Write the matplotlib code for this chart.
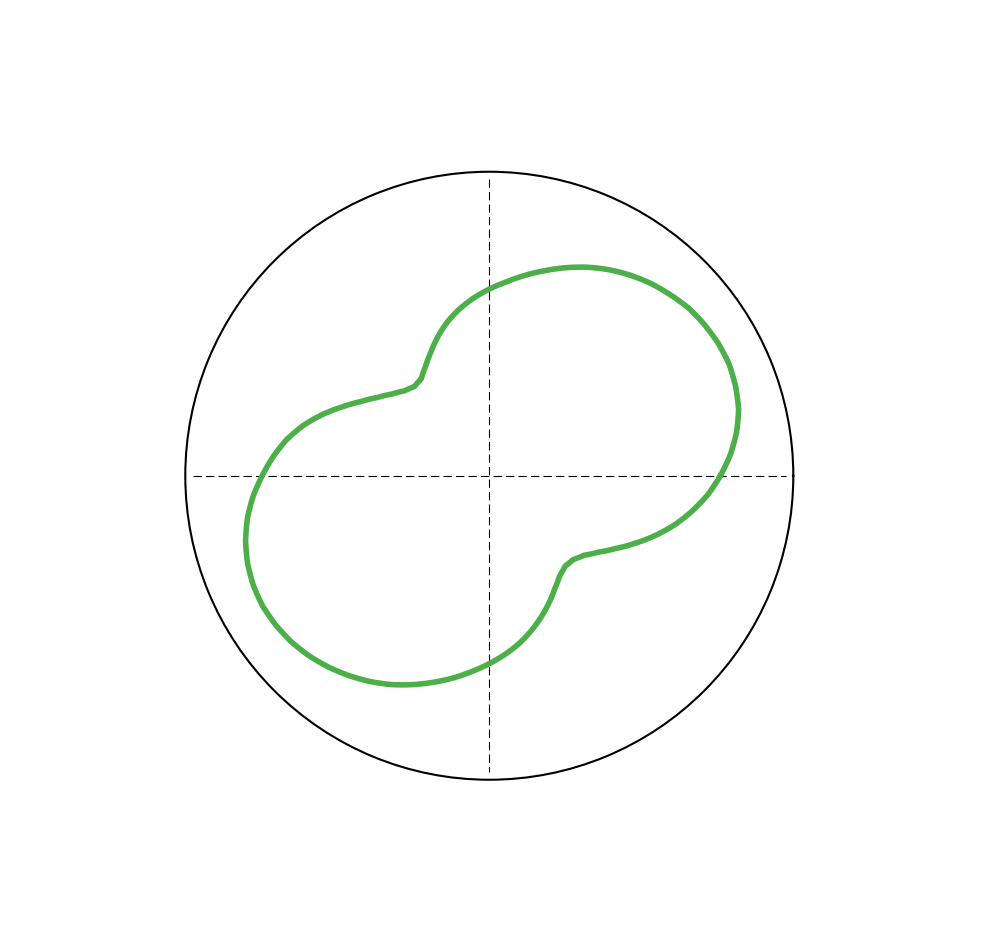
import numpy as np
import matplotlib
matplotlib.use("Agg")
import matplotlib.pyplot as plt

# radius of the green curve (circle radius = 1), read every 5 degrees, 0..355
theta_deg = np.arange(0, 360, 5)
r_vals = [0.760, 0.796, 0.826, 0.849, 0.862, 0.870, 0.870, 0.865, 0.857,
          0.842, 0.826, 0.806, 0.783, 0.757, 0.728, 0.698, 0.669, 0.640,
          0.614, 0.587, 0.558, 0.526, 0.490, 0.452, 0.418, 0.390, 0.383,
          0.395, 0.418, 0.449, 0.488, 0.535, 0.586, 0.635, 0.678, 0.714,
          0.747, 0.780, 0.808, 0.830, 0.846, 0.856, 0.860, 0.857, 0.850,
          0.838, 0.822, 0.803, 0.782, 0.758, 0.731, 0.703, 0.675, 0.646,
          0.618, 0.590, 0.561, 0.529, 0.496, 0.463, 0.430, 0.403, 0.388,
          0.390, 0.407, 0.438, 0.479, 0.527, 0.578, 0.629, 0.676, 0.721]

theta = np.deg2rad(np.append(theta_deg, 360))
r = np.append(r_vals, r_vals[0])

axis_len = 0.975

fig = plt.figure(figsize=(10, 9.43), dpi=100)
ax = fig.add_axes([0.1853, 0.1731, 0.608, 0.6448], projection="polar")

# dashed cross through the centre
ax.plot([np.pi, np.pi, 0, 0], [axis_len, 0, 0, axis_len], color="black",
        lw=0.8, dashes=(7.5, 3.75), zorder=1)
ax.plot([np.pi / 2, np.pi / 2, 3 * np.pi / 2, 3 * np.pi / 2], [axis_len, 0, 0, axis_len],
        color="black", lw=0.8, dashes=(7.5, 3.75), zorder=1)

line, = ax.plot(theta, r, color="#4daf4a", lw=4.0, zorder=3,
                solid_joinstyle="round")
# follow the polar grid between the read points instead of straight chords
line._path._interpolation_steps = 30

ax.set_rlim(0, 1)
ax.set_xticks([])
ax.set_yticks([])
ax.grid(False)
ax.spines["polar"].set_linewidth(1.5)

fig.savefig("out.png", dpi=100)
